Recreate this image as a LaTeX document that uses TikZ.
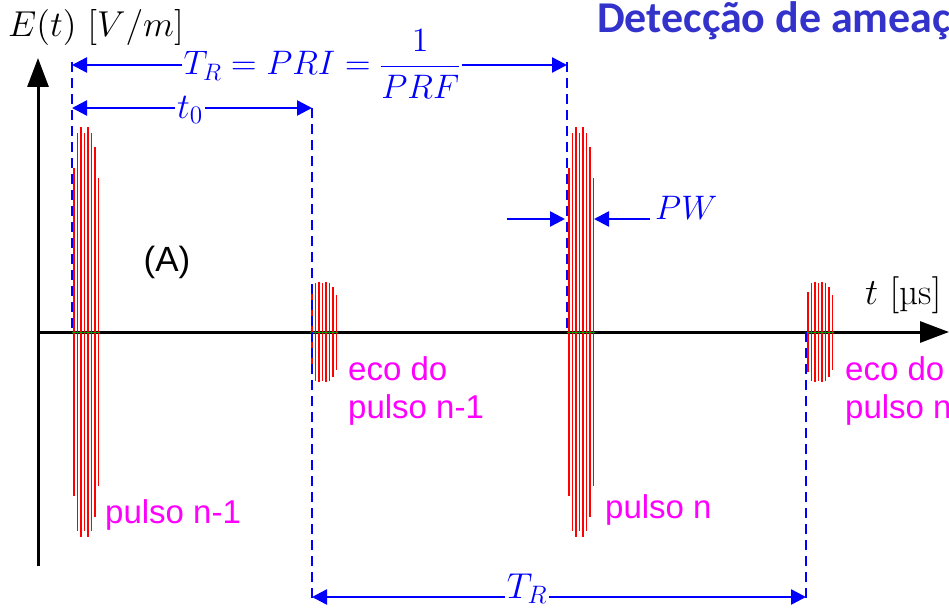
\documentclass[tikz,border=0pt]{standalone}
\usepackage{fontspec}
\DeclareFontShape{OML}{cmm}{m}{it}{<->cmmi12}{}
\DeclareFontShape{OT1}{cmr}{m}{n}{<->cmr12}{}
\DeclareFontShape{OMS}{cmsy}{m}{n}{<->cmsy10}{}
\newfontfamily\arialf{Liberation Sans}
\newfontfamily\calib{Carlito}
\usetikzlibrary{arrows.meta}
\definecolor{titleblue}{RGB}{51,51,204}
\definecolor{mag}{RGB}{255,0,255}
\definecolor{sigred}{RGB}{255,0,0}
\definecolor{dimblue}{RGB}{0,0,255}
\begin{document}
\begin{tikzpicture}[x=1pt,y=-1pt,
  axis/.style={line width=3pt, -{Triangle[length=29pt,width=21pt]}},
  dim/.style={dimblue, line width=2.5pt, {Triangle[length=15pt,width=15pt]}-{Triangle[length=15pt,width=15pt]}},
  ptr/.style={dimblue, line width=2.5pt, -{Triangle[length=15pt,width=15pt]}},
  guide/.style={dimblue, line width=2.2pt, dash pattern=on 10pt off 6pt},
  mathlbl/.style={text=dimblue, inner sep=2pt, font=\fontsize{34}{40}\selectfont},
  sig/.style={sigred, line width=1.3pt},
  lbl/.style={text=mag, font=\arialf\fontsize{33}{38}\selectfont, align=left, inner sep=0pt}]
\useasboundingbox (0,0) rectangle (949,609);

% axes
\coordinate (O) at (38,332);
\coordinate (ytop) at (38,58);
\coordinate (ybot) at (38,566);
\coordinate (xend) at (949,332);
\draw[axis] (ybot) -- (ytop);
\draw[axis] (O) -- (xend);

% pulses
\foreach \px/\A in {72/205, 567/205, 310/50, 806/50} {
  \foreach \dx/\f in {2/0.8, 5.5/0.97, 9/1, 12.5/0.97, 16/1, 19.5/0.97, 23/0.9, 26.5/0.75} {
    \draw[sig] ({\px+\dx},{332-\A*\f}) -- ({\px+\dx},{332+\A*\f});
  }
  \draw[green!60!black, line width=1pt] (\px,332) -- ({\px+28},332);
}

% guide lines
\coordinate (d1t) at (72,62);  \coordinate (d1b) at (72,332);
\coordinate (d2t) at (312,108); \coordinate (d2b) at (312,600);
\coordinate (d3t) at (567,62); \coordinate (d3b) at (567,332);
\coordinate (d4t) at (806,332); \coordinate (d4b) at (806,600);
\draw[guide] (d1t) -- (d1b);
\draw[guide] (d2t) -- (d2b);
\draw[guide] (d3t) -- (d3b);
\draw[guide] (d4t) -- (d4b);

% dimension arrows
\coordinate (a1) at (72,65);  \coordinate (a2) at (567,65);
\draw[dim] (a1) -- (a2);
\node[mathlbl, fill=white, anchor=base] (trpri) at (322,75) {$\displaystyle T_R = PRI = \frac{1}{PRF}$};

\coordinate (b1) at (72,108); \coordinate (b2) at (312,108);
\draw[dim] (b1) -- (b2);
\node[mathlbl, fill=white, font=\fontsize{36}{44}\selectfont] (t0) at (190,110) {$t_0$};

\coordinate (c1) at (312,597); \coordinate (c2) at (806,597);
\draw[dim] (c1) -- (c2);
\node[mathlbl, fill=white, anchor=base, font=\fontsize{36}{44}\selectfont] (trb) at (527,598) {$T_R$};

\coordinate (p1s) at (507,219); \coordinate (p1e) at (565,219);
\coordinate (p2s) at (650,219); \coordinate (p2e) at (594,219);
\draw[ptr] (p1s) -- (p1e);
\draw[ptr] (p2s) -- (p2e);
\node[mathlbl, anchor=base west, inner sep=0pt] (pw) at (655,220) {$PW$};

% axis labels
\node[anchor=base west, inner sep=0pt, font=\fontsize{36}{42}\selectfont] (ylab) at (8,37) {$E(t)\ [V/m]$};
\node[anchor=base west, inner sep=0pt, font=\fontsize{37}{42}\selectfont] (xlab) at (865,305) {$t\ [\mbox{µs}]$};

% title
\node[anchor=base west, inner sep=0pt, text=titleblue, font=\calib\bfseries\fontsize{44}{50}\selectfont] (title) at (597,33) {Detecção de ameaças};

% text labels
\node[inner sep=0pt, font=\arialf\fontsize{35}{40}\selectfont] (A) at (167,262) {(A)};
\node[lbl, anchor=west] (l1) at (105,515) {pulso n-1};
\node[lbl, anchor=west] (l2) at (348,391) {eco do\\pulso n-1};
\node[lbl, anchor=west] (l3) at (605,510) {pulso n};
\node[lbl, anchor=west] (l4) at (845,391) {eco do\\pulso n};
\end{tikzpicture}
\end{document}
